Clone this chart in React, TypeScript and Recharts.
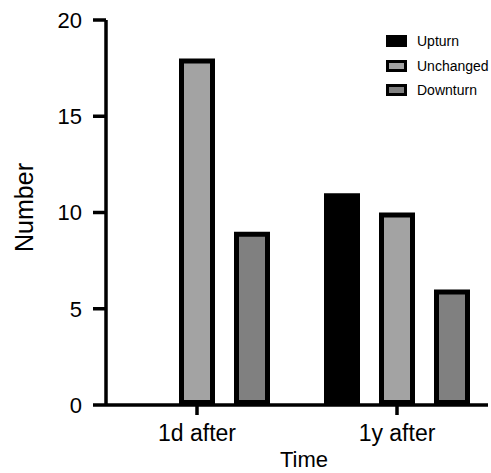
import { Bar, BarChart, Legend, XAxis, YAxis } from "recharts";

const CATEGORIES = ["1d after", "1y after"];
const UPTURN = [0, 11];
const UNCHANGED = [18, 10];
const DOWNTURN = [9, 6];
const Y_TICKS = [0, 5, 10, 15, 20];

const SERIES = [
  { key: "upturn", name: "Upturn", fill: "#000000" },
  { key: "unchanged", name: "Unchanged", fill: "#a3a3a3" },
  { key: "downturn", name: "Downturn", fill: "#808080" },
];

const data = CATEGORIES.map((time, i) => ({
  time,
  upturn: UPTURN[i],
  unchanged: UNCHANGED[i],
  downturn: DOWNTURN[i],
}));

const FONT = "'Liberation Sans', Arial, Helvetica, sans-serif";
const BORDER = 5;
const AXIS_W = 3.5;

// GraphPad-style bar: the black border sits inside the bar's box
function OutlinedBar(props: any) {
  const { x, y, width, height, fill } = props;
  if (!height || height <= 0) return null;
  return (
    <rect
      x={x + BORDER / 2}
      y={y + BORDER / 2}
      width={width - BORDER}
      height={height - BORDER}
      fill={fill}
      stroke="#000"
      strokeWidth={BORDER}
    />
  );
}

function LegendBox() {
  return (
    <div style={{ fontFamily: FONT, fontSize: 14, color: "#000", whiteSpace: "nowrap" }}>
      {SERIES.map((s) => (
        <div key={s.key} style={{ display: "flex", alignItems: "center", height: 24.5 }}>
          <div
            style={{
              width: 21,
              height: 12,
              flexShrink: 0,
              boxSizing: "border-box",
              border: "3px solid #000",
              background: s.fill,
              marginRight: 10,
            }}
          />
          <span>{s.name}</span>
        </div>
      ))}
    </div>
  );
}

export default function App() {
  return (
    <div style={{ position: "absolute", left: 0, top: 0, width: 491, height: 473, background: "#fff" }}>
      <BarChart
        width={491}
        height={473}
        data={data}
        margin={{ top: 20, right: 3, bottom: 0, left: 0 }}
        barSize={36}
        barGap={19}
      >
        <XAxis
          dataKey="time"
          height={68}
          padding={{ left: -9, right: -9 }}
          axisLine={{ stroke: "#000", strokeWidth: AXIS_W }}
          tickLine={{ stroke: "#000", strokeWidth: AXIS_W }}
          tickSize={10}
          tickMargin={10}
          tick={{ fill: "#000", fontSize: 23, fontFamily: FONT }}
          label={{
            value: "Time",
            position: "insideBottom",
            offset: 6,
            dx: 7,
            style: { fill: "#000", fontSize: 22, fontFamily: FONT },
          }}
        />
        <YAxis
          width={106}
          domain={[0, 20]}
          ticks={Y_TICKS}
          interval={0}
          axisLine={{ stroke: "#000", strokeWidth: AXIS_W }}
          tickLine={{ stroke: "#000", strokeWidth: AXIS_W }}
          tickSize={13}
          tickMargin={11}
          tick={{ fill: "#000", fontSize: 22, fontFamily: FONT }}
          label={{
            value: "Number",
            angle: -90,
            position: "insideLeft",
            offset: 24,
            dy: -5,
            style: { fill: "#000", fontSize: 25, fontFamily: FONT, textAnchor: "middle" },
          }}
        />
        <Legend
          layout="horizontal"
          align="center"
          verticalAlign="middle"
          wrapperStyle={{ top: 29, left: 386, width: "auto", height: "auto" }}
          content={() => <LegendBox />}
        />
        {SERIES.map((s) => (
          <Bar
            key={s.key}
            dataKey={s.key}
            name={s.name}
            fill={s.fill}
            shape={<OutlinedBar />}
            isAnimationActive={false}
          />
        ))}
      </BarChart>
    </div>
  );
}
